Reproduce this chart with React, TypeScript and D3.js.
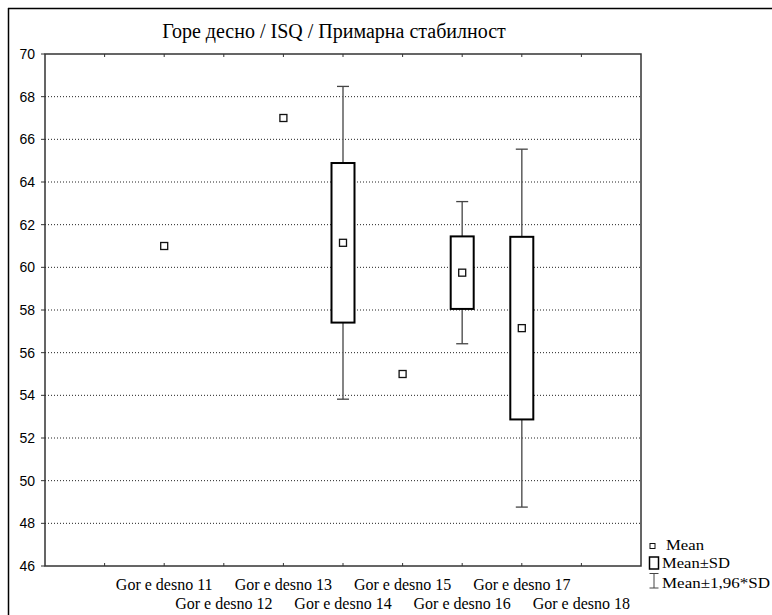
import React from "react";
import * as d3 from "d3";

const title = "Горе десно / ISQ / Примарна стабилност";
const categories = [
  "Gor e desno 11",
  "Gor e desno 12",
  "Gor e desno 13",
  "Gor e desno 14",
  "Gor e desno 15",
  "Gor e desno 16",
  "Gor e desno 17",
  "Gor e desno 18",
];
const means: (number | null)[] = [61.0, null, 67.0, 61.15, 55.0, 59.75, 57.15, null];
const sds: (number | null)[] = [0, null, 0, 3.74, 0, 1.7, 4.28, null];
const yTicks = [46, 48, 50, 52, 54, 56, 58, 60, 62, 64, 66, 68, 70];
const legendLabels = ["Mean", "Mean±SD", "Mean±1,96*SD"];

const W = 772;
const H = 615;
const L = 45, R = 641, T = 54, B = 566;

export default function App() {
  const y = d3.scaleLinear().domain([46, 70]).range([B, T]);
  const x = d3.scaleLinear().domain([0, 10]).range([L, R]);
  const xTickPos = d3.range(1, 10);
  const serif = "'Liberation Serif', 'Times New Roman', serif";
  const sans = "'Liberation Sans', Arial, sans-serif";

  return (
    <svg
      width={W}
      height={H}
      style={{ position: "absolute", left: 0, top: 0, display: "block", background: "#fff" }}
    >
      {/* outer frame */}
      <line x1={8.5} y1={8} x2={8.5} y2={H} stroke="#000" strokeWidth={1.5} />
      <line x1={8} y1={8.5} x2={W} y2={8.5} stroke="#000" strokeWidth={1.5} />

      <text x={334} y={38} textAnchor="middle" fontFamily={serif} fontSize={20} fill="#000">
        {title}
      </text>

      {/* grid lines */}
      {yTicks.filter((t) => t !== 46 && t !== 70).map((t) => (
        <line key={"g" + t} x1={L} x2={R} y1={y(t)} y2={y(t)} stroke="#222" strokeWidth={1} strokeDasharray="1,2" />
      ))}

      {/* plot border */}
      <rect x={L} y={T} width={R - L} height={B - T} fill="none" stroke="#333" strokeWidth={1.5} />

      {/* y ticks & labels */}
      {yTicks.map((t) => (
        <g key={"y" + t}>
          <line x1={L - 4} x2={L} y1={y(t)} y2={y(t)} stroke="#333" strokeWidth={1} />
          <text x={35} y={y(t)} dy="0.36em" textAnchor="end" fontFamily={sans} fontSize={14} fill="#000">
            {t}
          </text>
        </g>
      ))}

      {/* x ticks */}
      {xTickPos.map((p) => (
        <g key={"xt" + p}>
          <line x1={x(p)} x2={x(p)} y1={B} y2={B - 3} stroke="#333" strokeWidth={1} />
          <line x1={x(p)} x2={x(p)} y1={T} y2={T + 3} stroke="#333" strokeWidth={1} />
        </g>
      ))}

      {/* x labels */}
      {categories.map((c, i) => (
        <text
          key={c}
          x={x(i + 2)}
          y={i % 2 === 0 ? 589.5 : 608.5}
          textAnchor="middle"
          fontFamily={serif}
          fontSize={16}
          fill="#000"
        >
          {c}
        </text>
      ))}

      {/* data */}
      {categories.map((c, i) => {
        const m = means[i];
        const s = sds[i];
        if (m == null || s == null) return null;
        const cx = x(i + 2);
        return (
          <g key={"d" + i}>
            {s > 0 && (
              <g>
                <line x1={cx} x2={cx} y1={y(m + 1.96 * s)} y2={y(m - 1.96 * s)} stroke="#666" strokeWidth={1.6} />
                <line x1={cx - 6} x2={cx + 6} y1={y(m + 1.96 * s)} y2={y(m + 1.96 * s)} stroke="#444" strokeWidth={1.3} />
                <line x1={cx - 6} x2={cx + 6} y1={y(m - 1.96 * s)} y2={y(m - 1.96 * s)} stroke="#444" strokeWidth={1.3} />
                <rect x={cx - 11.5} y={y(m + s)} width={23} height={y(m - s) - y(m + s)} fill="#fff" stroke="#000" strokeWidth={2} />
              </g>
            )}
            <rect x={cx - 3.5} y={y(m) - 3.5} width={7} height={7} fill="#fff" stroke="#111" strokeWidth={1.3} />
          </g>
        );
      })}

      {/* legend */}
      <g>
        <rect x={650} y={543.5} width={5} height={5} fill="#fff" stroke="#111" strokeWidth={1} />
        <text x={666} y={550} fontFamily={serif} fontSize={15} textLength={38} lengthAdjust="spacingAndGlyphs" fill="#000">{legendLabels[0]}</text>
        <rect x={649.5} y={557} width={9} height={12} fill="#fff" stroke="#000" strokeWidth={1.5} />
        <text x={662} y={567.5} fontFamily={serif} fontSize={15} textLength={68} lengthAdjust="spacingAndGlyphs" fill="#000">{legendLabels[1]}</text>
        <line x1={654} x2={654} y1={573.5} y2={588} stroke="#444" strokeWidth={1} />
        <line x1={649.5} x2={658.5} y1={573.5} y2={573.5} stroke="#444" strokeWidth={1} />
        <line x1={649.5} x2={658.5} y1={588} y2={588} stroke="#444" strokeWidth={1} />
        <text x={662} y={588} fontFamily={serif} fontSize={15} textLength={108} lengthAdjust="spacingAndGlyphs" fill="#000">{legendLabels[2]}</text>
      </g>
    </svg>
  );
}
